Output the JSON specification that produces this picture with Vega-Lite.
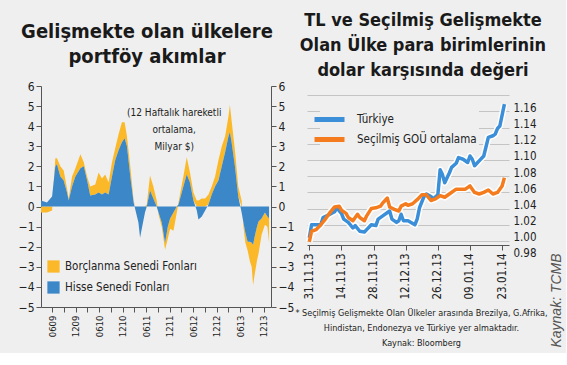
{
  "$schema": "https://vega.github.io/schema/vega-lite/v6.json",
  "background": "#efefef",
  "padding": {"left": 18, "top": 12, "right": 3, "bottom": 5},
  "spacing": 36,
  "bounds": "flush",
  "resolve": {"scale": {"color": "independent"}, "legend": {"color": "independent"}},
  "config": {
    "font": "DejaVu Sans Condensed, DejaVu Sans, sans-serif",
    "view": {"stroke": null},
    "axis": {"labelFontSize": 12, "labelColor": "#222", "domainColor": "#555", "tickColor": "#555", "grid": false, "titleColor": "#222"},
    "legend": {"labelFontSize": 12, "labelColor": "#222"},
    "title": {"color": "#1a1a1a", "fontSize": 20, "fontWeight": "bold", "lineHeight": 25, "anchor": "middle", "frame": "group"}
  },
  "datasets": {
    "akim": [
      {"tarih": "2009-03-07", "hisse": 0.3, "borc": -0.3},
      {"tarih": "2009-04-22", "hisse": 0.2, "borc": -0.3},
      {"tarih": "2009-06-01", "hisse": 0.5, "borc": -0.2},
      {"tarih": "2009-06-26", "hisse": 2.0, "borc": 0.4},
      {"tarih": "2009-07-09", "hisse": 2.1, "borc": 0.3},
      {"tarih": "2009-08-04", "hisse": 1.5, "borc": 0.5},
      {"tarih": "2009-08-30", "hisse": 1.3, "borc": 0.5},
      {"tarih": "2009-09-25", "hisse": 0.7, "borc": 0.2},
      {"tarih": "2009-10-08", "hisse": 0.3, "borc": 0.1},
      {"tarih": "2009-11-03", "hisse": 1.0, "borc": 0.5},
      {"tarih": "2009-11-29", "hisse": 1.5, "borc": 0.4},
      {"tarih": "2010-01-07", "hisse": 1.9, "borc": 0.7},
      {"tarih": "2010-02-02", "hisse": 2.0, "borc": 0.2},
      {"tarih": "2010-02-28", "hisse": 1.3, "borc": 0.2},
      {"tarih": "2010-03-24", "hisse": 0.55, "borc": 0.45},
      {"tarih": "2010-05-02", "hisse": 0.6, "borc": 0.5},
      {"tarih": "2010-05-28", "hisse": 0.7, "borc": 1.0},
      {"tarih": "2010-06-23", "hisse": 0.6, "borc": 0.8},
      {"tarih": "2010-07-18", "hisse": 0.7, "borc": 0.9},
      {"tarih": "2010-08-14", "hisse": 0.6, "borc": 0.6},
      {"tarih": "2010-09-09", "hisse": 1.5, "borc": 0.7},
      {"tarih": "2010-10-04", "hisse": 2.3, "borc": 0.6},
      {"tarih": "2010-10-30", "hisse": 2.8, "borc": 0.8},
      {"tarih": "2010-11-25", "hisse": 3.2, "borc": 1.0},
      {"tarih": "2010-12-16", "hisse": 3.4, "borc": 0.8},
      {"tarih": "2011-01-03", "hisse": 3.0, "borc": 0.5},
      {"tarih": "2011-01-29", "hisse": 1.5, "borc": 0.5},
      {"tarih": "2011-02-24", "hisse": 0.2, "borc": 0.1},
      {"tarih": "2011-03-07", "hisse": -0.1, "borc": 0.0},
      {"tarih": "2011-04-02", "hisse": -0.8, "borc": 0.0},
      {"tarih": "2011-04-15", "hisse": -1.55, "borc": 0.0},
      {"tarih": "2011-04-28", "hisse": -1.1, "borc": 0.0},
      {"tarih": "2011-05-23", "hisse": -0.3, "borc": 0.0},
      {"tarih": "2011-06-06", "hisse": 0.0, "borc": 0.1},
      {"tarih": "2011-07-01", "hisse": 0.8, "borc": 0.75},
      {"tarih": "2011-07-27", "hisse": 0.4, "borc": 0.6},
      {"tarih": "2011-08-22", "hisse": 0.0, "borc": 0.3},
      {"tarih": "2011-09-05", "hisse": -0.3, "borc": -0.1},
      {"tarih": "2011-09-30", "hisse": -0.8, "borc": -0.2},
      {"tarih": "2011-10-26", "hisse": -1.8, "borc": -0.35},
      {"tarih": "2011-11-16", "hisse": -1.0, "borc": -0.6},
      {"tarih": "2011-12-04", "hisse": -0.6, "borc": -0.5},
      {"tarih": "2011-12-30", "hisse": -0.3, "borc": -0.9},
      {"tarih": "2012-01-25", "hisse": 0.0, "borc": -0.3},
      {"tarih": "2012-02-07", "hisse": 0.1, "borc": 0.1},
      {"tarih": "2012-03-16", "hisse": 1.0, "borc": 0.5},
      {"tarih": "2012-04-11", "hisse": 1.6, "borc": 0.85},
      {"tarih": "2012-05-06", "hisse": 1.2, "borc": 0.5},
      {"tarih": "2012-06-02", "hisse": 0.3, "borc": 0.4},
      {"tarih": "2012-06-28", "hisse": -0.2, "borc": 0.3},
      {"tarih": "2012-07-11", "hisse": -0.65, "borc": 0.3},
      {"tarih": "2012-08-06", "hisse": -0.5, "borc": 0.4},
      {"tarih": "2012-09-01", "hisse": -0.2, "borc": 0.4},
      {"tarih": "2012-09-27", "hisse": 0.1, "borc": 0.5},
      {"tarih": "2012-10-22", "hisse": 0.6, "borc": 0.4},
      {"tarih": "2012-11-17", "hisse": 1.0, "borc": 0.5},
      {"tarih": "2012-12-13", "hisse": 1.3, "borc": 1.0},
      {"tarih": "2013-01-08", "hisse": 2.0, "borc": 1.0},
      {"tarih": "2013-02-03", "hisse": 2.7, "borc": 0.8},
      {"tarih": "2013-03-01", "hisse": 3.5, "borc": 1.0},
      {"tarih": "2013-03-12", "hisse": 3.7, "borc": 1.35},
      {"tarih": "2013-03-25", "hisse": 3.2, "borc": 1.1},
      {"tarih": "2013-04-20", "hisse": 2.0, "borc": 0.8},
      {"tarih": "2013-05-16", "hisse": 0.5, "borc": 0.5},
      {"tarih": "2013-06-11", "hisse": -0.3, "borc": 0.3},
      {"tarih": "2013-06-25", "hisse": -0.8, "borc": -0.2},
      {"tarih": "2013-07-10", "hisse": -1.3, "borc": -0.5},
      {"tarih": "2013-07-28", "hisse": -1.75, "borc": -0.45},
      {"tarih": "2013-08-15", "hisse": -1.75, "borc": -1.0},
      {"tarih": "2013-08-28", "hisse": -1.8, "borc": -1.2},
      {"tarih": "2013-09-08", "hisse": -1.9, "borc": -2.0},
      {"tarih": "2013-09-20", "hisse": -1.5, "borc": -1.9},
      {"tarih": "2013-10-08", "hisse": -1.0, "borc": -1.7},
      {"tarih": "2013-10-20", "hisse": -0.75, "borc": -1.6},
      {"tarih": "2013-11-13", "hisse": -0.6, "borc": -0.8},
      {"tarih": "2013-12-09", "hisse": -0.3, "borc": -0.6},
      {"tarih": "2013-12-28", "hisse": -0.5, "borc": -0.5},
      {"tarih": "2014-01-10", "hisse": -0.6, "borc": -1.2}
    ],
    "kur": [
      {"tarih": "2013-10-31", "seri": "Türkiye", "deger": 0.984},
      {"tarih": "2013-11-01", "seri": "Türkiye", "deger": 1.000},
      {"tarih": "2013-11-03", "seri": "Türkiye", "deger": 1.000},
      {"tarih": "2013-11-05", "seri": "Türkiye", "deger": 1.000},
      {"tarih": "2013-11-06", "seri": "Türkiye", "deger": 1.009},
      {"tarih": "2013-11-09", "seri": "Türkiye", "deger": 1.013},
      {"tarih": "2013-11-11", "seri": "Türkiye", "deger": 1.016},
      {"tarih": "2013-11-12", "seri": "Türkiye", "deger": 1.021},
      {"tarih": "2013-11-14", "seri": "Türkiye", "deger": 1.014},
      {"tarih": "2013-11-15", "seri": "Türkiye", "deger": 1.007},
      {"tarih": "2013-11-17", "seri": "Türkiye", "deger": 1.003},
      {"tarih": "2013-11-19", "seri": "Türkiye", "deger": 0.996},
      {"tarih": "2013-11-20", "seri": "Türkiye", "deger": 0.999},
      {"tarih": "2013-11-22", "seri": "Türkiye", "deger": 0.992},
      {"tarih": "2013-11-24", "seri": "Türkiye", "deger": 0.991},
      {"tarih": "2013-11-25", "seri": "Türkiye", "deger": 0.994},
      {"tarih": "2013-11-27", "seri": "Türkiye", "deger": 1.000},
      {"tarih": "2013-11-29", "seri": "Türkiye", "deger": 0.999},
      {"tarih": "2013-11-30", "seri": "Türkiye", "deger": 1.007},
      {"tarih": "2013-12-02", "seri": "Türkiye", "deger": 1.011},
      {"tarih": "2013-12-05", "seri": "Türkiye", "deger": 1.017},
      {"tarih": "2013-12-06", "seri": "Türkiye", "deger": 1.007},
      {"tarih": "2013-12-08", "seri": "Türkiye", "deger": 1.003},
      {"tarih": "2013-12-09", "seri": "Türkiye", "deger": 1.005},
      {"tarih": "2013-12-10", "seri": "Türkiye", "deger": 1.013},
      {"tarih": "2013-12-11", "seri": "Türkiye", "deger": 1.005},
      {"tarih": "2013-12-13", "seri": "Türkiye", "deger": 1.005},
      {"tarih": "2013-12-16", "seri": "Türkiye", "deger": 1.000},
      {"tarih": "2013-12-17", "seri": "Türkiye", "deger": 1.007},
      {"tarih": "2013-12-18", "seri": "Türkiye", "deger": 1.021},
      {"tarih": "2013-12-20", "seri": "Türkiye", "deger": 1.035},
      {"tarih": "2013-12-21", "seri": "Türkiye", "deger": 1.038},
      {"tarih": "2013-12-23", "seri": "Türkiye", "deger": 1.035},
      {"tarih": "2013-12-24", "seri": "Türkiye", "deger": 1.032},
      {"tarih": "2013-12-26", "seri": "Türkiye", "deger": 1.037},
      {"tarih": "2013-12-27", "seri": "Türkiye", "deger": 1.068},
      {"tarih": "2013-12-28", "seri": "Türkiye", "deger": 1.062},
      {"tarih": "2013-12-29", "seri": "Türkiye", "deger": 1.052},
      {"tarih": "2013-12-31", "seri": "Türkiye", "deger": 1.064},
      {"tarih": "2014-01-01", "seri": "Türkiye", "deger": 1.071},
      {"tarih": "2014-01-03", "seri": "Türkiye", "deger": 1.076},
      {"tarih": "2014-01-04", "seri": "Türkiye", "deger": 1.083},
      {"tarih": "2014-01-06", "seri": "Türkiye", "deger": 1.081},
      {"tarih": "2014-01-08", "seri": "Türkiye", "deger": 1.077},
      {"tarih": "2014-01-09", "seri": "Türkiye", "deger": 1.085},
      {"tarih": "2014-01-10", "seri": "Türkiye", "deger": 1.081},
      {"tarih": "2014-01-11", "seri": "Türkiye", "deger": 1.073},
      {"tarih": "2014-01-13", "seri": "Türkiye", "deger": 1.079},
      {"tarih": "2014-01-15", "seri": "Türkiye", "deger": 1.085},
      {"tarih": "2014-01-17", "seri": "Türkiye", "deger": 1.108},
      {"tarih": "2014-01-19", "seri": "Türkiye", "deger": 1.110},
      {"tarih": "2014-01-20", "seri": "Türkiye", "deger": 1.112},
      {"tarih": "2014-01-21", "seri": "Türkiye", "deger": 1.119},
      {"tarih": "2014-01-22", "seri": "Türkiye", "deger": 1.122},
      {"tarih": "2014-01-24", "seri": "Türkiye", "deger": 1.149},
      {"tarih": "2013-10-31", "seri": "Seçilmiş GOÜ ortalama", "deger": 0.979},
      {"tarih": "2013-11-01", "seri": "Seçilmiş GOÜ ortalama", "deger": 0.992},
      {"tarih": "2013-11-03", "seri": "Seçilmiş GOÜ ortalama", "deger": 0.994},
      {"tarih": "2013-11-05", "seri": "Seçilmiş GOÜ ortalama", "deger": 1.000},
      {"tarih": "2013-11-07", "seri": "Seçilmiş GOÜ ortalama", "deger": 1.007},
      {"tarih": "2013-11-09", "seri": "Seçilmiş GOÜ ortalama", "deger": 1.015},
      {"tarih": "2013-11-11", "seri": "Seçilmiş GOÜ ortalama", "deger": 1.022},
      {"tarih": "2013-11-13", "seri": "Seçilmiş GOÜ ortalama", "deger": 1.023},
      {"tarih": "2013-11-14", "seri": "Seçilmiş GOÜ ortalama", "deger": 1.018},
      {"tarih": "2013-11-16", "seri": "Seçilmiş GOÜ ortalama", "deger": 1.014},
      {"tarih": "2013-11-17", "seri": "Seçilmiş GOÜ ortalama", "deger": 1.009},
      {"tarih": "2013-11-19", "seri": "Seçilmiş GOÜ ortalama", "deger": 1.005},
      {"tarih": "2013-11-21", "seri": "Seçilmiş GOÜ ortalama", "deger": 1.013},
      {"tarih": "2013-11-22", "seri": "Seçilmiş GOÜ ortalama", "deger": 1.009},
      {"tarih": "2013-11-24", "seri": "Seçilmiş GOÜ ortalama", "deger": 1.005},
      {"tarih": "2013-11-25", "seri": "Seçilmiş GOÜ ortalama", "deger": 1.011},
      {"tarih": "2013-11-27", "seri": "Seçilmiş GOÜ ortalama", "deger": 1.020},
      {"tarih": "2013-11-29", "seri": "Seçilmiş GOÜ ortalama", "deger": 1.021},
      {"tarih": "2013-12-01", "seri": "Seçilmiş GOÜ ortalama", "deger": 1.023},
      {"tarih": "2013-12-02", "seri": "Seçilmiş GOÜ ortalama", "deger": 1.027},
      {"tarih": "2013-12-04", "seri": "Seçilmiş GOÜ ortalama", "deger": 1.033},
      {"tarih": "2013-12-05", "seri": "Seçilmiş GOÜ ortalama", "deger": 1.022},
      {"tarih": "2013-12-07", "seri": "Seçilmiş GOÜ ortalama", "deger": 1.019},
      {"tarih": "2013-12-09", "seri": "Seçilmiş GOÜ ortalama", "deger": 1.017},
      {"tarih": "2013-12-10", "seri": "Seçilmiş GOÜ ortalama", "deger": 1.023},
      {"tarih": "2013-12-12", "seri": "Seçilmiş GOÜ ortalama", "deger": 1.026},
      {"tarih": "2013-12-13", "seri": "Seçilmiş GOÜ ortalama", "deger": 1.024},
      {"tarih": "2013-12-15", "seri": "Seçilmiş GOÜ ortalama", "deger": 1.026},
      {"tarih": "2013-12-17", "seri": "Seçilmiş GOÜ ortalama", "deger": 1.031},
      {"tarih": "2013-12-19", "seri": "Seçilmiş GOÜ ortalama", "deger": 1.037},
      {"tarih": "2013-12-21", "seri": "Seçilmiş GOÜ ortalama", "deger": 1.037},
      {"tarih": "2013-12-23", "seri": "Seçilmiş GOÜ ortalama", "deger": 1.030},
      {"tarih": "2013-12-25", "seri": "Seçilmiş GOÜ ortalama", "deger": 1.032},
      {"tarih": "2013-12-27", "seri": "Seçilmiş GOÜ ortalama", "deger": 1.036},
      {"tarih": "2013-12-29", "seri": "Seçilmiş GOÜ ortalama", "deger": 1.034},
      {"tarih": "2013-12-31", "seri": "Seçilmiş GOÜ ortalama", "deger": 1.038},
      {"tarih": "2014-01-03", "seri": "Seçilmiş GOÜ ortalama", "deger": 1.044},
      {"tarih": "2014-01-05", "seri": "Seçilmiş GOÜ ortalama", "deger": 1.044},
      {"tarih": "2014-01-07", "seri": "Seçilmiş GOÜ ortalama", "deger": 1.044},
      {"tarih": "2014-01-09", "seri": "Seçilmiş GOÜ ortalama", "deger": 1.048},
      {"tarih": "2014-01-11", "seri": "Seçilmiş GOÜ ortalama", "deger": 1.040},
      {"tarih": "2014-01-13", "seri": "Seçilmiş GOÜ ortalama", "deger": 1.038},
      {"tarih": "2014-01-15", "seri": "Seçilmiş GOÜ ortalama", "deger": 1.040},
      {"tarih": "2014-01-17", "seri": "Seçilmiş GOÜ ortalama", "deger": 1.043},
      {"tarih": "2014-01-19", "seri": "Seçilmiş GOÜ ortalama", "deger": 1.038},
      {"tarih": "2014-01-21", "seri": "Seçilmiş GOÜ ortalama", "deger": 1.040},
      {"tarih": "2014-01-23", "seri": "Seçilmiş GOÜ ortalama", "deger": 1.048},
      {"tarih": "2014-01-24", "seri": "Seçilmiş GOÜ ortalama", "deger": 1.058}
    ]
  },
  "hconcat": [
    {
      "width": 230,
      "height": 221,
      "title": {"text": ["Gelişmekte olan ülkelere", "portföy akımlar"], "dx": -9, "offset": 13},
      "layer": [
        {
          "data": {"name": "akim"},
          "transform": [{"fold": ["borc", "hisse"], "as": ["seri", "deger"]}],
          "mark": {"type": "area", "interpolate": "linear"},
          "encoding": {
            "x": {
              "field": "tarih", "type": "temporal",
              "scale": {"type": "utc", "domain": [{"year": 2009, "month": 3, "date": 7, "utc": true}, {"year": 2014, "month": 1, "date": 25, "utc": true}]},
              "axis": {
                "title": null, "labelAngle": 270, "labelFontSize": 9.5, "tickSize": 5, "labelPadding": 3, "labelOverlap": false,
                "values": [
                  {"year": 2009, "month": 6, "date": 1, "utc": true}, {"year": 2009, "month": 9, "date": 1, "utc": true}, {"year": 2009, "month": 12, "date": 1, "utc": true},
                  {"year": 2010, "month": 3, "date": 1, "utc": true}, {"year": 2010, "month": 6, "date": 1, "utc": true}, {"year": 2010, "month": 9, "date": 1, "utc": true}, {"year": 2010, "month": 12, "date": 1, "utc": true},
                  {"year": 2011, "month": 3, "date": 1, "utc": true}, {"year": 2011, "month": 6, "date": 1, "utc": true}, {"year": 2011, "month": 9, "date": 1, "utc": true}, {"year": 2011, "month": 12, "date": 1, "utc": true},
                  {"year": 2012, "month": 3, "date": 1, "utc": true}, {"year": 2012, "month": 6, "date": 1, "utc": true}, {"year": 2012, "month": 9, "date": 1, "utc": true}, {"year": 2012, "month": 12, "date": 1, "utc": true},
                  {"year": 2013, "month": 3, "date": 1, "utc": true}, {"year": 2013, "month": 6, "date": 1, "utc": true}, {"year": 2013, "month": 9, "date": 1, "utc": true}, {"year": 2013, "month": 12, "date": 1, "utc": true}
                ],
                "labelExpr": "(utcmonth(datum.value) == 5 || utcmonth(datum.value) == 11) ? utcFormat(datum.value, '%m%y') : ''"
              }
            },
            "y": {
              "field": "deger", "type": "quantitative", "stack": "zero",
              "scale": {"domain": [-5, 6], "nice": false},
              "axis": {"title": null, "orient": "left", "values": [-5, -4, -3, -2, -1, 0, 1, 2, 3, 4, 5, 6], "tickSize": 5, "labelPadding": 2}
            },
            "color": {
              "field": "seri", "type": "nominal",
              "scale": {"domain": ["borc", "hisse"], "range": ["#fbb829", "#3b87c8"]},
              "legend": {
                "orient": "none", "legendX": 6, "legendY": 174, "title": null, "symbolType": "square", "symbolSize": 150,
                "symbolStrokeWidth": 0, "rowPadding": 8, "labelFontSize": 11.5, "labelOffset": 5,
                "labelExpr": "datum.label == 'borc' ? 'Borçlanma Senedi Fonları' : 'Hisse Senedi Fonları'"
              }
            },
            "order": {"field": "seri", "sort": "descending"}
          }
        },
        {
          "mark": {"type": "rule", "color": "#111", "strokeWidth": 2},
          "encoding": {
            "y": {"datum": 0, "type": "quantitative", "axis": {"title": null, "orient": "right", "values": [-5, -4, -3, -2, -1, 0, 1, 2, 3, 4, 5, 6], "tickSize": 5, "labelPadding": 2}}
          }
        },
        {
          "data": {"values": [{"tarih": "2012-01-05", "deger": 4.9, "metin": "(12 Haftalık hareketli|ortalama,|Milyar $)"}]},
          "mark": {"type": "text", "lineBreak": "|", "fontSize": 10, "lineHeight": 17, "baseline": "top", "align": "center", "color": "#222"},
          "encoding": {
            "x": {"field": "tarih", "type": "temporal", "axis": null},
            "y": {"field": "deger", "type": "quantitative", "axis": null},
            "text": {"field": "metin"}
          }
        }
      ],
      "resolve": {"scale": {"y": "shared", "x": "shared"}, "axis": {"y": "independent", "x": "independent"}}
    },
    {
      "width": 202,
      "height": 159,
      "title": {"text": ["TL ve Seçilmiş Gelişmekte", "Olan Ülke para birimlerinin", "dolar karşısında değeri"], "fontSize": 18, "dx": 15, "offset": 6},
      "data": {"name": "kur"},
      "encoding": {
        "x": {
          "field": "tarih", "type": "temporal",
          "scale": {"type": "utc", "domain": [{"year": 2013, "month": 10, "date": 30, "utc": true}, {"year": 2014, "month": 1, "date": 26, "utc": true}]},
          "axis": {
            "labelAngle": 270, "labelFontSize": 11.5, "tickSize": 5, "labelPadding": 3, "labelOverlap": false,
            "values": [
              {"year": 2013, "month": 10, "date": 31, "utc": true}, {"year": 2013, "month": 11, "date": 14, "utc": true}, {"year": 2013, "month": 11, "date": 28, "utc": true},
              {"year": 2013, "month": 12, "date": 12, "utc": true}, {"year": 2013, "month": 12, "date": 26, "utc": true}, {"year": 2014, "month": 1, "date": 9, "utc": true}, {"year": 2014, "month": 1, "date": 23, "utc": true}
            ],
            "labelExpr": "utcFormat(datum.value, '%d.%m.%y') == '31.10.13' ? '31.11.13' : utcFormat(datum.value, '%d.%m.%y')",
            "title": ["* Seçilmiş Gelişmekte Olan Ülkeler arasında Brezilya, G.Afrika,", "Hindistan, Endonezya ve Türkiye yer almaktadır.", "Kaynak: Bloomberg"],
            "titleFontSize": 9, "titleFontWeight": "normal", "titleLineHeight": 15, "titleX": 114, "titleY": 63, "titleAlign": "center", "titleBaseline": "top"
          }
        },
        "y": {
          "field": "deger", "type": "quantitative",
          "scale": {"domain": [0.975, 1.1715], "nice": false, "zero": false},
          "axis": {
            "orient": "right", "values": [0.98, 1.0, 1.02, 1.04, 1.06, 1.08, 1.1, 1.12, 1.14, 1.16], "format": ".2f",
            "grid": true, "gridColor": "#c4c4c4", "ticks": false, "domain": false, "labelOffset": 13, "labelPadding": 4, "labelFontSize": 11.5,
            "title": "Kaynak: TCMB", "titleAngle": 270, "titleFont": "Liberation Sans, sans-serif", "titleFontStyle": "italic",
            "titleFontWeight": "normal", "titleFontSize": 14, "titleColor": "#555", "titleX": 47, "titleY": 214, "titleAlign": "center", "titleBaseline": "middle"
          }
        }
      },
      "layer": [
        {
          "mark": {"type": "line", "color": "white", "strokeWidth": 6.5, "strokeJoin": "round"},
          "encoding": {"detail": {"field": "seri"}}
        },
        {
          "mark": {"type": "line", "strokeWidth": 3.5, "strokeJoin": "round"},
          "encoding": {
            "color": {
              "field": "seri", "type": "nominal",
              "scale": {"domain": ["Türkiye", "Seçilmiş GOÜ ortalama"], "range": ["#3b8ed8", "#f47c1e"]},
              "legend": {
                "orient": "none", "legendX": 13, "legendY": 24, "title": null, "symbolType": "M-3,0H3", "symbolSize": 100,
                "symbolStrokeWidth": 5, "labelFontSize": 11.5, "rowPadding": -1, "labelOffset": 20, "fillColor": "#efefef", "padding": 2
              }
            }
          }
        }
      ]
    }
  ]
}
